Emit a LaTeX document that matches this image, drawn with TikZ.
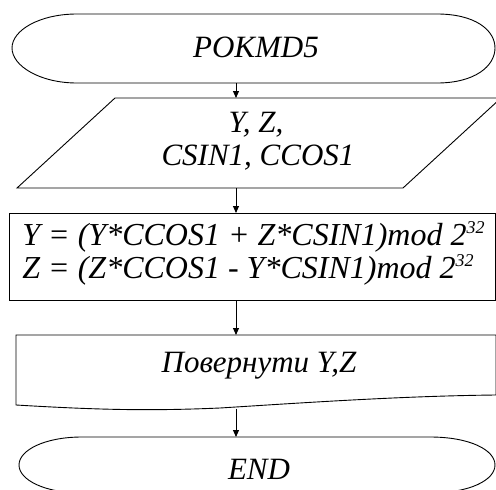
\documentclass[tikz,border=0pt]{standalone}
\usepackage{fontspec}
\setmainfont{Liberation Serif}[ItalicFont={Liberation Serif Italic}]
\usetikzlibrary{arrows.meta}
\newcommand{\supthirtytwo}{\smash{\raisebox{0.75ex}{\fontsize{18}{18}\selectfont 32}}}
\begin{document}
\begin{tikzpicture}[x=1pt,y=-1pt,line width=0.9pt,
  arr/.style={-{Triangle[length=7pt,width=6pt]}},
  lbl/.style={font=\fontsize{31}{31}\selectfont\itshape,inner sep=0pt,anchor=base},
  big/.style={font=\fontsize{32}{32}\selectfont\itshape,inner sep=0pt,anchor=base west},
  shp/.style={draw=black,fill=white}]
\fill[white] (0,0) rectangle (496,490);
\useasboundingbox (0,0) rectangle (496,490);
% start terminator
\draw[shp] (77,14) -- (437,14) .. controls (475,14) and (495,30) .. (495,48)
  .. controls (495,66) and (475,83) .. (437,83) -- (77,83)
  .. controls (40,83) and (12,66) .. (12,48) .. controls (12,30) and (40,14) .. (77,14) -- cycle;
\node[lbl] (t1) at (256,57) {POKMD5};
% parallelogram
\draw[shp] (115,98) -- (501,98) -- (403,188) -- (17,188) -- cycle;
\node[lbl] (t2a) at (256,132) {Y, Z,};
\node[lbl] (t2b) at (258,165) {CSIN1, CCOS1};
% rectangle
\draw[shp] (9,213) rectangle (495.5,300);
\node[big] (t3a) at (22,245) {Y = (Y*CCOS1 + Z*CSIN1)mod 2\supthirtytwo};
\node[big] (t3b) at (22,278) {Z = (Z*CCOS1 - Y*CSIN1)mod 2\supthirtytwo};
% document
\draw[shp] (16,335) -- (496,335) -- (496,395)
  .. controls (400,396) and (300,403) .. (220,408)
  .. controls (150,411) and (100,410) .. (16,405) -- cycle;
\node[lbl] (t4) at (259,372) {Повернути Y,Z};
% end terminator
\draw[shp] (82,437) -- (430,437) .. controls (470,437) and (495,450) .. (495,465)
  .. controls (495,480) and (470,493) .. (430,493) -- (82,493)
  .. controls (45,493) and (19,480) .. (19,465) .. controls (19,450) and (45,437) .. (82,437) -- cycle;
\node[lbl] (t5) at (259,479) {END};
% connectors
\coordinate (a1s) at (236,83); \coordinate (a1e) at (236,98);
\coordinate (a2s) at (236,188); \coordinate (a2e) at (236,213);
\coordinate (a3s) at (236,300); \coordinate (a3e) at (236,335);
\coordinate (a4s) at (236,408.5); \coordinate (a4e) at (236,437);
\draw[arr] (a1s) -- (a1e);
\draw[arr] (a2s) -- (a2e);
\draw[arr] (a3s) -- (a3e);
\draw[arr] (a4s) -- (a4e);
\end{tikzpicture}
\end{document}
